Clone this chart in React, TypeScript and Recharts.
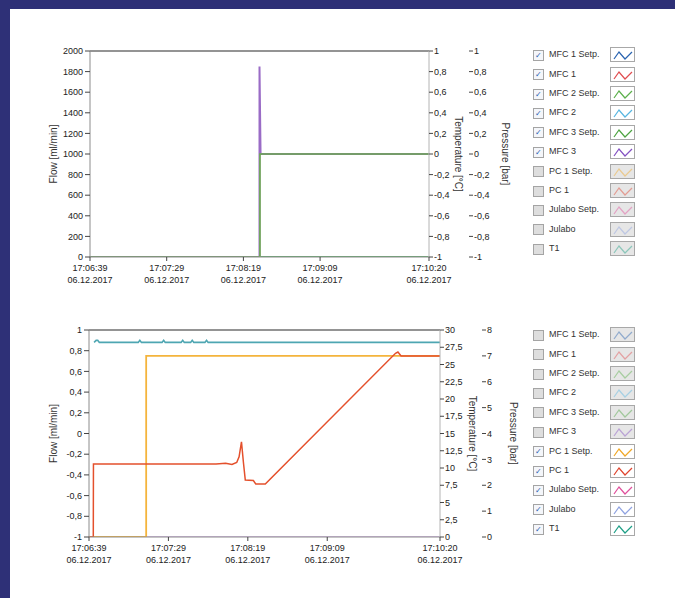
import React from "react";
import { LineChart, Line, XAxis, YAxis, ReferenceLine } from "recharts";

// x values are seconds after 17:06:39
const timeTicks = [0, 50, 100, 150, 221];
const timeTickLabels = ["17:06:39", "17:07:29", "17:08:19", "17:09:09", "17:10:20"];
const dateLabel = "06.12.2017";

// upper chart
const topFlowTicks = [0, 200, 400, 600, 800, 1000, 1200, 1400, 1600, 1800, 2000];
const unitTicks = [-1, -0.8, -0.6, -0.4, -0.2, 0, 0.2, 0.4, 0.6, 0.8, 1];
const idleTime = [0, 221];
const idleFlow = [0, 0];
const mfc3Time = [0, 110.5, 110.5, 111.2, 221];
const mfc3Flow = [0, 0, 1850, 1000, 1000];
const mfc3SetpTime = [0, 110.8, 110.8, 221];
const mfc3SetpFlow = [0, 0, 1000, 1000];

// lower chart
const bottomFlowTicks = [-1, -0.8, -0.6, -0.4, -0.2, 0, 0.2, 0.4, 0.6, 0.8, 1];
const tempTicks = [0, 2.5, 5, 7.5, 10, 12.5, 15, 17.5, 20, 22.5, 25, 27.5, 30];
const pressureTicks = [0, 1, 2, 3, 4, 5, 6, 7, 8];
const t1Time = [3.2, 4.5, 5.5, 6.5, 31, 32, 33, 46, 47, 48, 58, 59, 60, 64, 65, 66, 73, 74, 75, 221];
const t1Temp = [28.2, 28.5, 28.5, 28.2, 28.2, 28.5, 28.2, 28.2, 28.5, 28.2, 28.2, 28.5, 28.2, 28.2, 28.5, 28.2, 28.2, 28.5, 28.2, 28.2];
const julaboSetpTime = [0, 221];
const julaboSetpTemp = [0, 0];
const pc1SetpTime = [0, 36, 36, 221];
const pc1SetpBar = [0, 0, 7, 7];
const pc1Time = [0, 2.7, 2.8, 80, 86, 90, 93, 94.5, 96, 97.2, 98.4, 103.5, 105, 111, 193, 194.5, 196.5, 221];
const pc1Bar = [0, 0, 2.82, 2.82, 2.85, 2.8, 2.88, 3.1, 3.68, 2.9, 2.2, 2.18, 2.05, 2.05, 7.1, 7.15, 7.0, 7.0];

// legend
const legendNames = ["MFC 1 Setp.", "MFC 1", "MFC 2 Setp.", "MFC 2", "MFC 3 Setp.", "MFC 3", "PC 1 Setp.", "PC 1", "Julabo Setp.", "Julabo", "T1"];
const legendColors = ["#2a64b0", "#e04d50", "#5cb04c", "#58b6e0", "#4ea442", "#8452c2", "#f0a828", "#e0452e", "#e0509c", "#8fa2e0", "#1f9f86"];
const topChecked = [true, true, true, true, true, true, false, false, false, false, false];
const bottomChecked = [false, false, false, false, false, false, true, true, true, true, true];

const font = "'Liberation Sans', Arial, sans-serif";

const pts = (t: number[], v: number[]) => t.map((x, i) => ({ t: x, v: v[i] }));
const comma = (v: number) => String(Math.round(v * 10) / 10).replace(".", ",");

const TimeTick = (props: any) => {
  const { x, y, payload } = props;
  const i = timeTicks.indexOf(payload.value);
  return (
    <text x={x} y={y} textAnchor="middle" fontSize={9} fill="#222" fontFamily={font}>
      <tspan x={x} dy={8}>{timeTickLabels[i]}</tspan>
      <tspan x={x} dy={12}>{dateLabel}</tspan>
    </text>
  );
};

const tickStyle = { fontSize: 9, fill: "#222", fontFamily: font };
const tickMark = { stroke: "#444" };
const labelStyle = { fontSize: 10, fill: "#333", fontFamily: font, textAnchor: "middle" as const };

function SeriesLegend({ checked, top }: { checked: boolean[]; top: number }) {
  return (
    <div style={{ position: "absolute", left: 533, top, fontFamily: font, fontSize: 9, color: "#333" }}>
      {legendNames.map((name, i) => (
        <div key={name} style={{ position: "relative", height: 19.4, width: 110 }}>
          <div
            style={{
              position: "absolute", left: 0, top: 4.5, width: 9, height: 9,
              border: "1px solid #a4a4a4", background: checked[i] ? "#f4f6fa" : "#dedede",
              fontSize: 8, lineHeight: "9px", textAlign: "center", color: "#2a5db0"
            }}
          >
            {checked[i] ? "✓" : ""}
          </div>
          <div style={{ position: "absolute", left: 16, top: 4, whiteSpace: "nowrap" }}>{name}</div>
          <svg
            width={25}
            height={15}
            style={{ position: "absolute", left: 77, top: 2, background: checked[i] ? "#fff" : "#e6e6e6", border: "1px solid #a8a8a8", boxSizing: "border-box" }}
          >
            <polyline
              points="3,11 8,4 14,11 21,4"
              fill="none"
              stroke={legendColors[i]}
              strokeWidth={1.2}
              opacity={checked[i] ? 1 : 0.45}
            />
          </svg>
        </div>
      ))}
    </div>
  );
}

function TopChart() {
  return (
    <LineChart width={520} height={300} margin={{ top: 51, right: 6, bottom: 13, left: 45 }}>
      <XAxis
        dataKey="t" type="number" domain={[0, 221]} ticks={timeTicks} height={30}
        tick={<TimeTick />} tickSize={4} stroke="#8c8c8c" tickLine={tickMark}
      />
      <YAxis
        yAxisId="flow" type="number" domain={[0, 2000]} ticks={topFlowTicks} width={45} allowDataOverflow
        tick={tickStyle} tickSize={5} tickMargin={2} stroke="#8c8c8c" tickLine={tickMark}
        label={{ value: "Flow [ml/min]", angle: -90, position: "insideLeft", offset: 8, style: labelStyle }}
      />
      <YAxis
        yAxisId="zpressure" orientation="right" type="number" domain={[-1, 1]} ticks={unitTicks} width={45} allowDataOverflow
        tick={tickStyle} tickSize={4} tickMargin={1} axisLine={false} stroke="#666" tickLine={tickMark} tickFormatter={comma}
        label={{ value: "Pressure [bar]", angle: 90, position: "insideRight", offset: 8, style: labelStyle }}
      />
      <YAxis
        yAxisId="atemp" orientation="right" type="number" domain={[-1, 1]} ticks={unitTicks} width={40} allowDataOverflow
        tick={tickStyle} tickSize={4} tickMargin={1} stroke="#b4b4b4" tickLine={tickMark} tickFormatter={comma}
        label={{ value: "Temperature [°C]", angle: 90, position: "insideRight", offset: 10, style: labelStyle }}
      />
      <ReferenceLine yAxisId="flow" y={2000} stroke="#707070" strokeWidth={1.5} />
      {/* unchecked channels keep their axes alive but stay hidden */}
      <Line yAxisId="atemp" data={pts(idleTime, idleFlow)} dataKey="v" stroke="#1f9f86" hide dot={false} isAnimationActive={false} />
      <Line yAxisId="zpressure" data={pts(idleTime, idleFlow)} dataKey="v" stroke="#e0452e" hide dot={false} isAnimationActive={false} />
      <Line yAxisId="flow" data={pts(idleTime, idleFlow)} dataKey="v" stroke="#2a64b0" strokeWidth={1.5} dot={false} isAnimationActive={false} />
      <Line yAxisId="flow" data={pts(idleTime, idleFlow)} dataKey="v" stroke="#e04d50" strokeWidth={1.5} dot={false} isAnimationActive={false} />
      <Line yAxisId="flow" data={pts(idleTime, idleFlow)} dataKey="v" stroke="#58b6e0" strokeWidth={1.5} dot={false} isAnimationActive={false} />
      <Line yAxisId="flow" data={pts(idleTime, idleFlow)} dataKey="v" stroke="#5cb04c" strokeWidth={1.5} dot={false} isAnimationActive={false} />
      <Line yAxisId="flow" data={pts(mfc3Time, mfc3Flow)} dataKey="v" stroke="#9a6cc6" strokeWidth={2} dot={false} isAnimationActive={false} />
      <Line yAxisId="flow" data={pts(mfc3SetpTime, mfc3SetpFlow)} dataKey="v" stroke="#6aac4c" strokeWidth={1.6} dot={false} isAnimationActive={false} />
    </LineChart>
  );
}

function BottomChart() {
  return (
    <LineChart width={530} height={300} margin={{ top: 50, right: 8, bottom: 13, left: 45 }}>
      <XAxis
        dataKey="t" type="number" domain={[0, 221]} ticks={timeTicks} height={30}
        tick={<TimeTick />} tickSize={4} stroke="#8c8c8c" tickLine={tickMark}
      />
      <YAxis
        yAxisId="flow" type="number" domain={[-1, 1]} ticks={bottomFlowTicks} width={44} allowDataOverflow
        tick={tickStyle} tickSize={5} tickMargin={2} stroke="#8c8c8c" tickLine={tickMark} tickFormatter={comma}
        label={{ value: "Flow [ml/min]", angle: -90, position: "insideLeft", offset: 8, style: labelStyle }}
      />
      <YAxis
        yAxisId="zpressure" orientation="right" type="number" domain={[0, 8]} ticks={pressureTicks} width={40} allowDataOverflow
        tick={tickStyle} tickSize={4} tickMargin={1} axisLine={false} stroke="#666" tickLine={tickMark} tickFormatter={comma}
        label={{ value: "Pressure [bar]", angle: 90, position: "insideRight", offset: 8, style: labelStyle }}
      />
      <YAxis
        yAxisId="atemp" orientation="right" type="number" domain={[0, 30]} ticks={tempTicks} width={42} allowDataOverflow
        tick={tickStyle} tickSize={4} tickMargin={1} stroke="#b4b4b4" tickLine={tickMark} tickFormatter={comma}
        label={{ value: "Temperature [°C]", angle: 90, position: "insideRight", offset: 9, style: labelStyle }}
      />
      <ReferenceLine yAxisId="flow" y={1} stroke="#707070" strokeWidth={1.5} />
      {/* MFC channels are unchecked here */}
      <Line yAxisId="flow" data={pts(idleTime, idleFlow)} dataKey="v" stroke="#8452c2" hide dot={false} isAnimationActive={false} />
      <Line yAxisId="atemp" data={pts(julaboSetpTime, julaboSetpTemp)} dataKey="v" stroke="#c9a4dc" strokeWidth={1.5} dot={false} isAnimationActive={false} />
      <Line yAxisId="atemp" data={pts(t1Time, t1Temp)} dataKey="v" stroke="#4ea6b2" strokeWidth={1.6} dot={false} isAnimationActive={false} />
      <Line yAxisId="zpressure" data={pts(pc1SetpTime, pc1SetpBar)} dataKey="v" stroke="#f4b43c" strokeWidth={1.8} dot={false} isAnimationActive={false} />
      <Line yAxisId="zpressure" data={pts(pc1Time, pc1Bar)} dataKey="v" stroke="#e4502c" strokeWidth={1.5} dot={false} isAnimationActive={false} />
    </LineChart>
  );
}

export default function App() {
  return (
    <div style={{ position: "absolute", left: 0, top: 0, width: 675, height: 598, background: "#2e3077", overflow: "hidden" }}>
      <div style={{ position: "absolute", left: 10, top: 9, right: 0, bottom: 0, background: "#fff" }} />
      <div style={{ position: "absolute", left: 0, top: 0 }}>
        <TopChart />
      </div>
      <div style={{ position: "absolute", left: 0, top: 280 }}>
        <BottomChart />
      </div>
      <SeriesLegend checked={topChecked} top={45.3} />
      <SeriesLegend checked={bottomChecked} top={325.3} />
    </div>
  );
}
